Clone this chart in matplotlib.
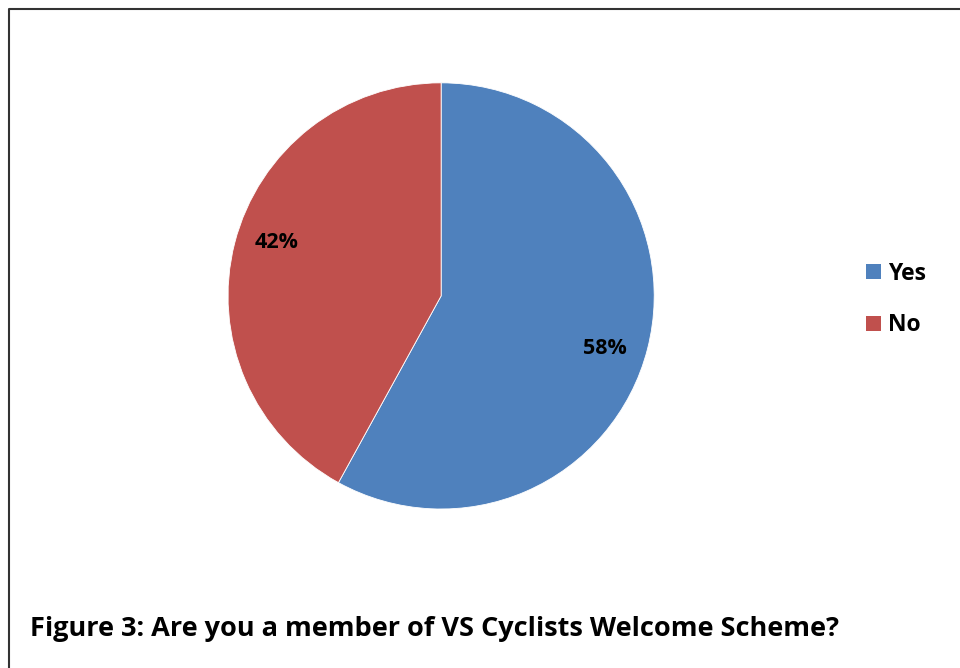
import matplotlib
matplotlib.use("Agg")
import matplotlib.pyplot as plt
from matplotlib.patches import Patch
import numpy as np

plt.rcParams['font.family'] = ['Open Sans', 'DejaVu Sans']
plt.rcParams['font.weight'] = 'bold'

# data
labels = ['Yes', 'No']
shares = [58, 42]
colors = ['#4F81BD', '#C0504D']
title = 'Figure 3: Are you a member of VS Cyclists Welcome Scheme?'

fig = plt.figure(figsize=(9.6, 6.68), dpi=100)

# pie area
ax = fig.add_axes([0.2375, 0.238, 0.444, 0.638])
wedges, texts, autotexts = ax.pie(
    shares, colors=colors, startangle=90, counterclock=False,
    autopct='%1.0f%%', pctdistance=0.81,
    wedgeprops=dict(edgecolor='white', linewidth=0.6),
    textprops=dict(fontsize=15.5, fontweight='bold', color='black'))
# labels sit a little clockwise of the wedge middle, as in excel
for w, t in zip(wedges, autotexts):
    mid = np.deg2rad((w.theta1 + w.theta2) / 2 - 3.5)
    t.set_position((0.81 * np.cos(mid), 0.81 * np.sin(mid)))
ax.set_xlim(-1, 1)
ax.set_ylim(-1, 1)
ax.set_aspect('equal')

# legend
handles = [Patch(facecolor=c, edgecolor='none', label=l) for l, c in zip(labels, colors)]
fig.legend(handles=handles, loc='upper left', bbox_to_anchor=(0.902, 0.608),
           frameon=False, fontsize=16.5, handlelength=0.65, handleheight=0.65,
           handletextpad=0.3, labelspacing=1.2, borderpad=0, borderaxespad=0)

# caption
fig.text(30 / 960, 1 - 629 / 668, title, fontsize=19.5, fontweight='bold',
         ha='left', va='center')

# frame lines (top and left)
fig.add_artist(plt.Line2D([8.5 / 960, 8.5 / 960, 1], [0, 1 - 8.5 / 668, 1 - 8.5 / 668],
                          transform=fig.transFigure, color='#333333', linewidth=1.5))

fig.savefig('out.png', dpi=100)
